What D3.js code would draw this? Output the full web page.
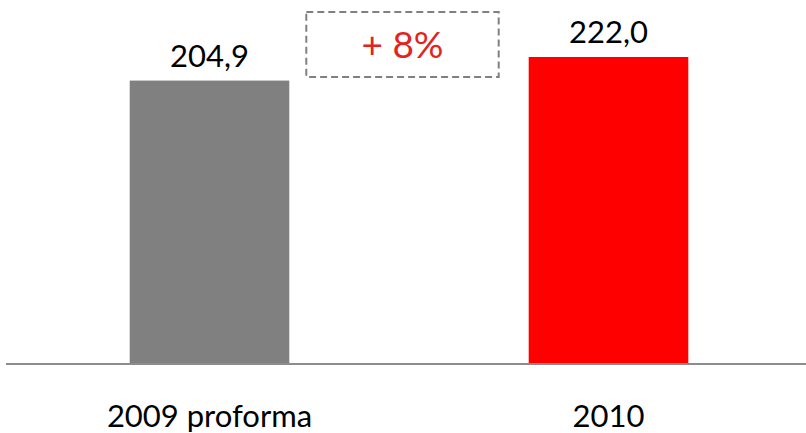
<!DOCTYPE html>
<html>
<head>
<meta charset="utf-8">
<script src="https://cdn.jsdelivr.net/npm/d3@7"></script>
<style>
    html, body { margin: 0; padding: 0; background: #fff; }
    svg { display: block; font-family: Lato, "Open Sans", sans-serif; }
</style>
</head>
<body>
<div id="visualization"></div>
<script>
// chart data
const categories = ["2009 proforma", "2010"];
const values = [204.9, 222.0];
const valueLabels = ["204,9", "222,0"];
const barColors = ["#808080", "#ff0000"];
const growthLabel = "+ 8%";

// total vis dimension
const visWidth = 806;
const visHeight = 433;
const baseline = 363;

const svg = d3.select("#visualization")
    .append("svg")
        .attr("width", visWidth)
        .attr("height", visHeight);

// scales
const x = d3.scaleBand()
    .domain(categories)
    .range([10, 808])
    .paddingInner(0.6)
    .paddingOuter(0.3);

const y = d3.scaleLinear()
    .domain([0, 222])
    .range([baseline, 57]);

// bars
svg.append("g")
    .selectAll("rect")
    .data(categories)
    .join("rect")
        .attr("x", d => x(d))
        .attr("y", (d, i) => y(values[i]))
        .attr("width", x.bandwidth())
        .attr("height", (d, i) => y(0) - y(values[i]))
        .attr("fill", (d, i) => barColors[i]);

// baseline axis
const axis = svg.append("g")
    .attr("transform", `translate(0, ${y(0) + 1})`)
    .call(d3.axisBottom(x).tickSize(0).tickPadding(41));

axis.select(".domain")
    .attr("d", `M6,0H806`)
    .attr("stroke", "#8c8c8c")
    .attr("stroke-width", 2);

axis.selectAll("text")
    .attr("font-family", "Lato, 'Open Sans', sans-serif")
    .attr("font-size", 31)
    .attr("fill", "#000");

// value labels
svg.append("g")
    .selectAll("text")
    .data(categories)
    .join("text")
        .attr("x", d => x(d) + x.bandwidth() / 2)
        .attr("y", (d, i) => y(values[i]) - 14)
        .attr("text-anchor", "middle")
        .attr("font-size", 31)
        .attr("fill", "#000")
        .text((d, i) => valueLabels[i]);

// growth annotation box
const boxLeft = x(categories[0]) + x.bandwidth() + 17;
const boxRight = x(categories[1]) - 30;
const note = svg.append("g");

note.append("rect")
    .attr("x", boxLeft)
    .attr("y", 12)
    .attr("width", boxRight - boxLeft)
    .attr("height", 65)
    .attr("fill", "none")
    .attr("stroke", "#808080")
    .attr("stroke-width", 2)
    .attr("stroke-dasharray", "7,4");

note.append("text")
    .attr("x", (boxLeft + boxRight) / 2)
    .attr("y", 58)
    .attr("text-anchor", "middle")
    .attr("font-size", 37)
    .attr("fill", "#e3231c")
    .text(growthLabel);
</script>
</body>
</html>
